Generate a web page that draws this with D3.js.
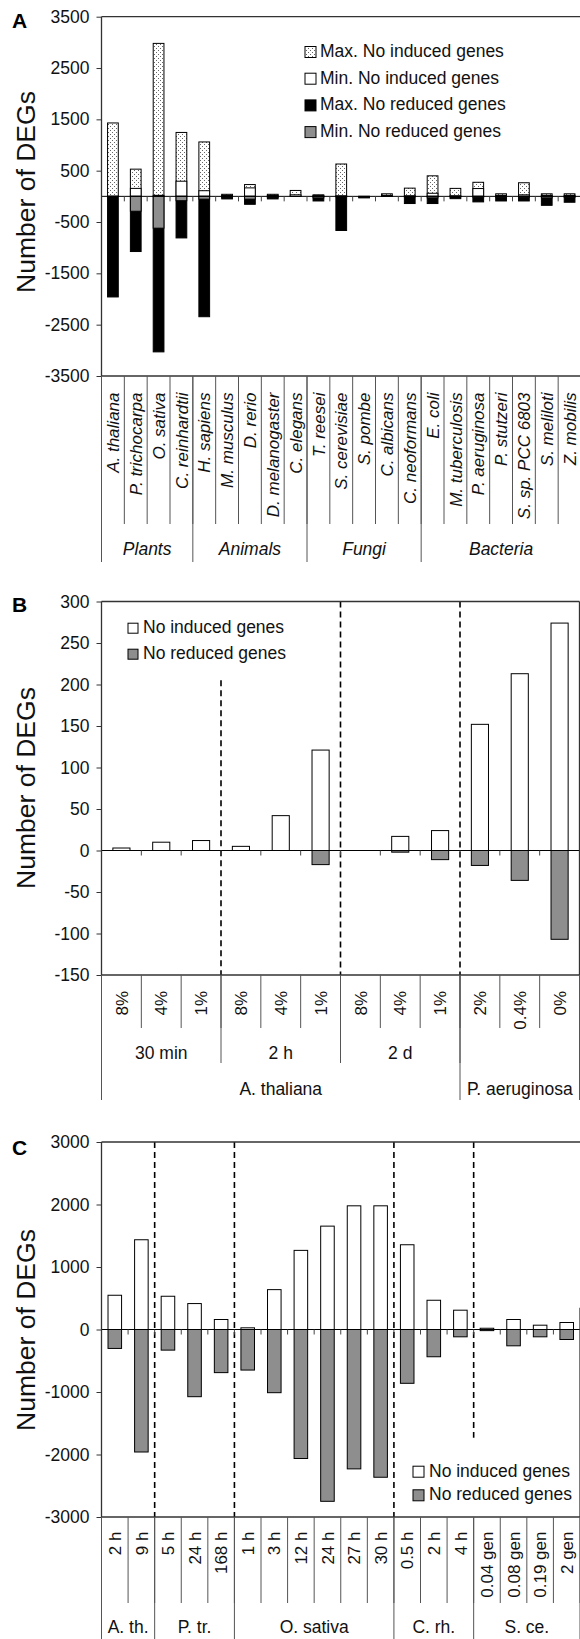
<!DOCTYPE html>
<html><head><meta charset="utf-8">
<script src="https://cdn.jsdelivr.net/npm/d3@7"></script>
<style>
body{margin:0;background:#fff}
svg{display:block}
</style>
</head><body>
<svg id="chart" width="580" height="1639"></svg>
<script>
// ---------------- Panel A data ----------------
const speciesA = ["A. thaliana","P. trichocarpa","O. sativa","C. reinhardtii","H. sapiens","M. musculus","D. rerio","D. melanogaster","C. elegans","T. reesei","S. cerevisiae","S. pombe","C. albicans","C. neoformans","E. coli","M. tuberculosis","P. aeruginosa","P. stutzeri","S. sp. PCC 6803","S. meliloti","Z. mobilis"];
const groupNamesA = ["Plants","Animals","Fungi","Bacteria"];
const groupSizesA = [4,5,5,7];
const maxInducedA = [1430,530,2980,1245,1060,40,230,40,115,30,630,0,50,160,400,155,274,50,265,50,50];
const minInducedA = [3,155,20,295,110,20,165,20,30,15,10,0,20,10,60,10,152,20,30,20,20];
const maxReducedA = [-1960,-1075,-3030,-810,-2345,-50,-155,-50,0,-90,-665,-30,0,-140,-140,-45,-108,-90,-90,-175,-115];
const minReducedA = [0,-290,-620,-85,-55,-20,-55,-20,0,-30,-10,-10,0,-10,-30,-10,-18,-20,-20,-30,-20];
const ticksA = [3500,2500,1500,500,-500,-1500,-2500,-3500];
const legendA = ["Max. No induced genes","Min. No induced genes","Max. No reduced genes","Min. No reduced genes"];

// ---------------- Panel B data ----------------
const conditionsB = ["8%","4%","1%","8%","4%","1%","8%","4%","1%","2%","0.4%","0%"];
const timeNamesB = ["30 min","2 h","2 d",""];
const timeSizesB = [3,3,3,3];
const speciesNamesB = ["A. thaliana","P. aeruginosa"];
const speciesSizesB = [9,3];
const inducedB = [3,10,12,5,42,121,0,17,24,152,213,274];
const reducedB = [0,0,0,0,0,-17,0,-2,-11,-18,-36,-107];
const ticksB = [300,250,200,150,100,50,0,-50,-100,-150];
const legendB = ["No induced genes","No reduced genes"];

// ---------------- Panel C data ----------------
const timesC = ["2 h","9 h","5 h","24 h","168 h","1 h","3 h","12 h","24 h","27 h","30 h","0.5 h","2 h","4 h","0.04 gen","0.08 gen","0.19 gen","2 gen"];
const groupNamesC = ["A. th.","P. tr.","O. sativa","C. rh.","S. ce."];
const groupSizesC = [2,3,6,3,4];
const inducedC = [548,1436,532,415,160,27,638,1266,1654,1979,1979,1356,468,309,20,160,69,112];
const reducedC = [-303,-1960,-330,-1075,-690,-649,-1011,-2064,-2749,-2230,-2364,-861,-436,-117,-18,-261,-117,-160];
const ticksC = [3000,2000,1000,0,-1000,-2000,-3000];
const legendC = ["No induced genes","No reduced genes"];
const dashEndC = -1730; // value where last dashed separator stops

// ---------------- drawing ----------------
const FONT = "'Liberation Sans', Arial, Helvetica, sans-serif";
const svg = d3.select("#chart");
const GRAY = "#8e8e8e";
const L = 101.5;

const defs = svg.append("defs");
const pat = defs.append("pattern").attr("id","dots").attr("width",4).attr("height",4).attr("patternUnits","userSpaceOnUse");
pat.append("rect").attr("width",4).attr("height",4).attr("fill","#fff");
pat.append("rect").attr("x",0).attr("y",0).attr("width",1).attr("height",1).attr("fill","#666");
pat.append("rect").attr("x",2).attr("y",2).attr("width",1).attr("height",1).attr("fill","#666");

function cum(sizes){ const o=[0]; sizes.forEach(s=>o.push(o[o.length-1]+s)); return o; }

function makePanel(p){
  const g = svg.append("g");
  const x = d3.scaleBand().domain(d3.range(p.n)).range([L,p.R]).padding(0);
  const y = d3.scaleLinear().domain(p.domain).range([p.bottom,p.top]);
  const bx = i => L + i*x.step();
  p.x = x; p.y = y; p.g = g; p.bx = bx;
  return p;
}

function drawBars(p, layers, frac){
  const {g,x,y} = p;
  const bw = x.bandwidth()*frac;
  layers.forEach(([vals,fill])=>{
    g.append("g").selectAll("rect").data(vals).join("rect")
      .attr("x",(d,i)=>x(i)+(x.bandwidth()-bw)/2)
      .attr("width",bw)
      .attr("y",d=>y(Math.max(0,d)))
      .attr("height",d=>Math.abs(y(d)-y(0)))
      .attr("fill",fill)
      .attr("stroke","#000").attr("stroke-width",1)
      .attr("display",d=>d===0?"none":null);
  });
}

function drawFrame(p, title, letter, titleY){
  const {g,x,y,bx,n} = p;
  const R = p.R;
  g.append("line").attr("x1",L).attr("x2",R).attr("y1",y(0)).attr("y2",y(0)).attr("stroke","#000").attr("stroke-width",1);
  g.append("g").selectAll("line").data(d3.range(1,n)).join("line")
    .attr("x1",i=>bx(i)).attr("x2",i=>bx(i)).attr("y1",y(0)).attr("y2",y(0)+5)
    .attr("stroke","#444").attr("stroke-width",1);
  const fr = g.append("g").attr("stroke","#333").attr("stroke-width",1.3);
  fr.append("line").attr("x1",L).attr("x2",R).attr("y1",p.top).attr("y2",p.top);
  fr.append("line").attr("x1",L).attr("x2",R).attr("y1",p.bottom).attr("y2",p.bottom);
  fr.append("line").attr("x1",R).attr("x2",R).attr("y1",y(p.rightFrom)).attr("y2",p.bottom);
  fr.append("line").attr("x1",L).attr("x2",L).attr("y1",p.top).attr("y2",p.bottom);
  const ax = g.append("g").attr("transform",`translate(${L},0)`)
    .call(d3.axisLeft(y).tickValues(p.ticks).tickSize(5).tickPadding(7).tickSizeOuter(0).tickFormat(d=>String(d)));
  ax.select(".domain").remove();
  ax.attr("font-family",FONT).attr("font-size",17.5);
  ax.selectAll("line").attr("stroke","#333");
  ax.selectAll("text").attr("fill","#111");
  g.append("text").attr("transform",`translate(26,${titleY}) rotate(-90)`)
    .attr("text-anchor","middle").attr("dy","0.35em")
    .attr("font-family",FONT).attr("font-size",26.5).attr("fill","#111").text(title);
  g.append("text").attr("x",12).attr("y",p.letterY).attr("font-family",FONT)
    .attr("font-weight","bold").attr("font-size",21).attr("fill","#000").text(letter);
}

function drawCatLabels(p, labels, topY, sepEnd, italic){
  const {g,x,bx,n} = p;
  g.append("g").selectAll("line").data(d3.range(0,n+1)).join("line")
    .attr("x1",i=>bx(i)).attr("x2",i=>bx(i)).attr("y1",p.bottom).attr("y2",sepEnd)
    .attr("stroke","#555").attr("stroke-width",1);
  g.append("g").selectAll("text").data(labels).join("text")
    .attr("transform",(d,i)=>`translate(${x(i)+x.bandwidth()/2},${topY}) rotate(-90)`)
    .attr("text-anchor","end").attr("dy","0.36em")
    .attr("font-family",FONT).attr("font-size",17).attr("fill","#111")
    .attr("font-style",italic?"italic":"normal").text(d=>d);
}

function drawGroupLevel(p, names, sizes, sepEnd, baseline, italic){
  const {g,bx} = p;
  const c = cum(sizes);
  g.append("g").selectAll("line").data(c).join("line")
    .attr("x1",i=>bx(i)).attr("x2",i=>bx(i)).attr("y1",p.bottom).attr("y2",sepEnd)
    .attr("stroke","#555").attr("stroke-width",1);
  g.append("g").selectAll("text").data(names).join("text")
    .attr("x",(d,k)=>(bx(c[k])+bx(c[k+1]))/2).attr("y",baseline)
    .attr("text-anchor","middle").attr("font-family",FONT).attr("font-size",17.5).attr("fill","#111")
    .attr("font-style",italic?"italic":"normal").text(d=>d);
}

function drawDashed(p, idxs, fromVals, toVals){
  const {g,y,bx} = p;
  idxs.forEach((i,k)=>{
    g.append("line").attr("x1",bx(i)).attr("x2",bx(i))
      .attr("y1",y(fromVals[k])).attr("y2",y(toVals[k]))
      .attr("stroke","#000").attr("stroke-width",1.6).attr("stroke-dasharray","6,4");
  });
}

function drawLegend(g, items, fills, sx, tx, y0, step, size){
  items.forEach((t,k)=>{
    const yy = y0 + k*step;
    g.append("rect").attr("x",sx).attr("y",yy-size+0.5).attr("width",size).attr("height",size)
      .attr("fill",fills[k]).attr("stroke","#000").attr("stroke-width",1);
    g.append("text").attr("x",tx).attr("y",yy).attr("font-family",FONT).attr("font-size",17.5)
      .attr("fill","#111").text(t);
  });
}

// ----- Panel A -----
const A = makePanel({n:speciesA.length, R:581, rightFrom:3500, top:16.7, bottom:376, domain:[-3500,3500], ticks:ticksA, letterY:28});
drawBars(A, [[maxInducedA,"url(#dots)"],[minInducedA,"#fff"],[maxReducedA,"#000"],[minReducedA,GRAY]], 0.47);
drawFrame(A, "Number of DEGs", "A", 192);
drawCatLabels(A, speciesA, 392.5, 524, true);
drawGroupLevel(A, groupNamesA, groupSizesA, 562, 555, true);
drawLegend(A.g, legendA, ["url(#dots)","#fff","#000",GRAY], 305, 320, 57, 26.7, 11);

// ----- Panel B -----
const B = makePanel({n:conditionsB.length, R:579.5, rightFrom:300, top:601.5, bottom:975, domain:[-150,300], ticks:ticksB, letterY:612});
drawBars(B, [[inducedB,"#fff"],[reducedB,GRAY]], 0.43);
drawDashed(B, [3,6,9], [205,300,300], [-150,-150,-150]);
drawFrame(B, "Number of DEGs", "B", 788);
drawCatLabels(B, conditionsB, 991, 1028, false);
drawGroupLevel(B, timeNamesB, timeSizesB, 1063, 1059, false);
drawGroupLevel(B, speciesNamesB, speciesSizesB, 1100, 1095, false);
drawLegend(B.g, legendB, ["#fff",GRAY], 128, 143, 632.7, 26, 10);

// ----- Panel C -----
const C = makePanel({n:timesC.length, R:580, rightFrom:350, top:1142, bottom:1517, domain:[-3000,3000], ticks:ticksC, letterY:1155});
drawBars(C, [[inducedC,"#fff"],[reducedC,GRAY]], 0.51);
drawDashed(C, [2,5,11,14], [3000,3000,3000,3000], [-3000,-3000,-3000,dashEndC]);
drawFrame(C, "Number of DEGs", "C", 1330);
drawCatLabels(C, timesC, 1531.5, 1603, false);
drawGroupLevel(C, groupNamesC, groupSizesC, 1639, 1633, false);
drawLegend(C.g, legendC, ["#fff",GRAY], 413, 429, 1476.7, 23.6, 11);
</script>
</body></html>
